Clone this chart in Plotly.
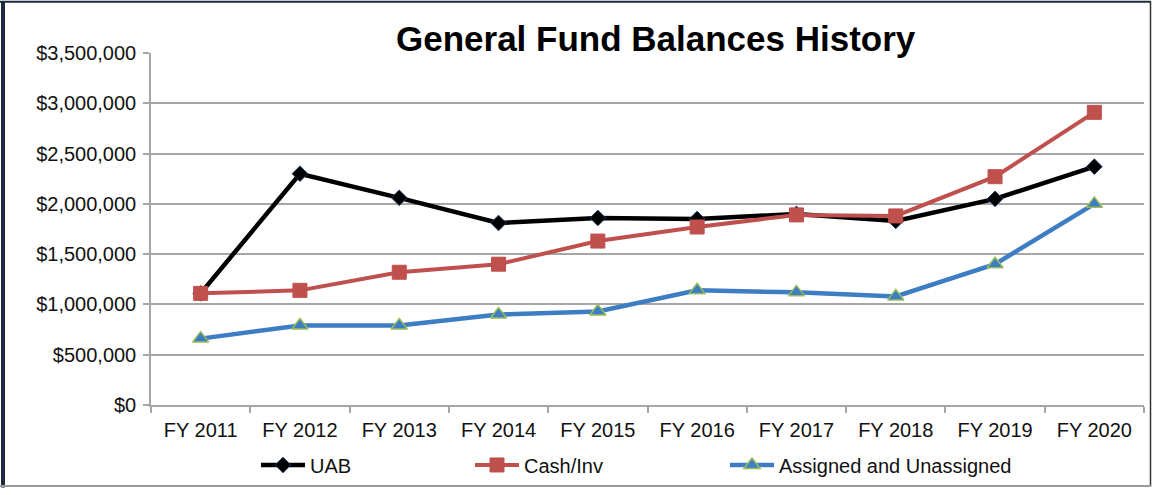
import plotly.graph_objects as go

# Fiscal years and balances
years = ["FY 2011", "FY 2012", "FY 2013", "FY 2014", "FY 2015",
         "FY 2016", "FY 2017", "FY 2018", "FY 2019", "FY 2020"]
uab = [1110000, 2300000, 2060000, 1810000, 1860000,
       1850000, 1900000, 1830000, 2050000, 2370000]
cash_inv = [1110000, 1140000, 1320000, 1400000, 1630000,
            1770000, 1890000, 1880000, 2270000, 2910000]
assigned = [660000, 790000, 790000, 900000, 930000,
            1140000, 1120000, 1080000, 1400000, 2000000]
y_ticks = [0, 500000, 1000000, 1500000, 2000000, 2500000, 3000000, 3500000]

W, H = 1154, 495
ML, MR, MT, MB = 151, 10, 53, 84
PW, PH = W - ML - MR, H - MT - MB


def px_x(px):
    return (px - ML) / PW


def px_y(py):
    return (H - MB - py) / PH


FONT = "Liberation Sans, Arial, sans-serif"
GRID = "#a6a6a6"
TXT = "#111111"

fig = go.Figure()
fig.add_trace(go.Scatter(
    x=years, y=uab, name="UAB", mode="lines+markers",
    line=dict(color="#000000", width=4.5),
    marker=dict(symbol="diamond", size=12, color="#000000",
                line=dict(color="#1f3864", width=1)),
    legend="legend"))
fig.add_trace(go.Scatter(
    x=years, y=cash_inv, name="Cash/Inv", mode="lines+markers",
    line=dict(color="#c0504d", width=4),
    marker=dict(symbol="square", size=14, color="#c0504d",
                line=dict(color="#c0504d", width=1)),
    legend="legend2"))
fig.add_trace(go.Scatter(
    x=years, y=assigned, name="Assigned and Unassigned", mode="lines+markers",
    line=dict(color="#3c7dc4", width=4.5),
    marker=dict(symbol="triangle-up", size=14, color="#3c7dc4",
                line=dict(color="#9bbb59", width=1.5)),
    legend="legend3"))

legend_common = dict(orientation="h", yanchor="middle", xanchor="left",
                     font=dict(family=FONT, size=20, color=TXT),
                     bgcolor="rgba(0,0,0,0)", itemwidth=44)

fig.update_layout(
    width=W, height=H, autosize=False, showlegend=True,
    margin=dict(l=ML, r=MR, t=MT, b=MB),
    paper_bgcolor="white", plot_bgcolor="white",
    font=dict(family=FONT, size=20, color=TXT),
    legend=dict(x=px_x(256), y=px_y(472), **legend_common),
    legend2=dict(x=px_x(470), y=px_y(472), **legend_common),
    legend3=dict(x=px_x(725), y=px_y(472), **legend_common),
    xaxis=dict(
        type="category", range=[-0.5, 9.5],
        showgrid=False, showline=True, linecolor=GRID, linewidth=1.5,
        ticks="outside", tickson="boundaries", ticklen=6, tickcolor=GRID,
        tickwidth=1.5, ticklabelstandoff=6,
        tickfont=dict(family=FONT, size=20, color=TXT),
    ),
    yaxis=dict(
        range=[0, 3500000], tickvals=y_ticks, tickformat="$,.0f",
        showgrid=True, gridcolor=GRID, gridwidth=1.5,
        showline=True, linecolor=GRID, linewidth=1.5,
        ticks="outside", ticklen=6, tickcolor=GRID, tickwidth=1.5,
        zeroline=False, ticklabelstandoff=3,
        tickfont=dict(family=FONT, size=20, color=TXT),
    ),
    annotations=[dict(
        text="<b>General Fund Balances History</b>",
        x=px_x(656), y=px_y(38), xref="paper", yref="paper",
        xanchor="center", yanchor="middle", showarrow=False,
        bgcolor="white", borderpad=1,
        font=dict(family=FONT, size=35, color="#000000"),
    )],
    shapes=[
        # outer frame of the chart
        dict(type="line", xref="paper", yref="paper",
             x0=px_x(3), x1=px_x(3), y0=px_y(0), y1=px_y(495),
             line=dict(color="#1c2b3f", width=4)),
        dict(type="line", xref="paper", yref="paper",
             x0=px_x(0), x1=px_x(1151), y0=px_y(1), y1=px_y(1),
             line=dict(color="#1c2b3f", width=2)),
        dict(type="line", xref="paper", yref="paper",
             x0=px_x(1150.5), x1=px_x(1150.5), y0=px_y(0), y1=px_y(494),
             line=dict(color="#333333", width=1.5)),
        dict(type="line", xref="paper", yref="paper",
             x0=px_x(0), x1=px_x(1151), y0=px_y(493.5), y1=px_y(493.5),
             line=dict(color="#9a9a9a", width=2)),
    ],
)

fig.write_html("out.html")
